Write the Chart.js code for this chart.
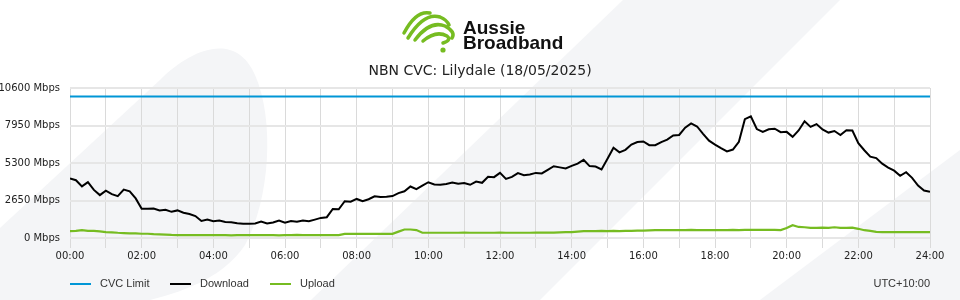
<!DOCTYPE html>
<html>
<head>
<meta charset="utf-8">
<title>NBN CVC: Lilydale</title>
<script src="https://cdn.jsdelivr.net/npm/chart.js@4"></script>
<style>
  html, body { margin: 0; padding: 0; background: #fff; }
  #cvc { display: block; }
</style>
</head>
<body>
<canvas id="cvc" width="960" height="300"></canvas>
<script>
// the data, one reading every 10 minutes from 00:00 to 24:00
const stepMinutes = 10;
const hourLabels = ["00:00","02:00","04:00","06:00","08:00","10:00","12:00","14:00","16:00","18:00","20:00","22:00","24:00"];
const cvcLimit = 10000;

const download = [
  4200, 4080, 3650, 3950, 3400, 3030,
  3350, 3100, 2960, 3420, 3300, 2800,
  2070, 2060, 2080, 1950, 2000, 1850,
  1950, 1790, 1700, 1550, 1200, 1300,
  1190, 1240, 1130, 1120, 1050, 1010,
  1000, 1030, 1160, 1030, 1100, 1240,
  1080, 1200, 1150, 1240, 1190, 1300,
  1420, 1470, 2050, 2030, 2600, 2560,
  2760, 2600, 2740, 2950, 2890, 2910,
  2960, 3170, 3300, 3640, 3450, 3700,
  3940, 3780, 3760, 3820, 3920, 3830,
  3890, 3760, 3990, 3900, 4320, 4300,
  4600, 4180, 4320, 4590, 4440, 4490,
  4600, 4560, 4820, 5070, 4990, 4910,
  5100, 5260, 5520, 5080, 5050, 4850,
  5600, 6380, 6050, 6230, 6600, 6780,
  6820, 6560, 6560, 6780, 6950, 7250,
  7280, 7800, 8100, 7880, 7360, 6880,
  6600, 6350, 6120, 6250, 6800, 8400,
  8600, 7700, 7500, 7680, 7720, 7480,
  7500, 7150, 7600, 8250, 7850, 8050,
  7670, 7450, 7560, 7280, 7620, 7600,
  6700, 6200, 5750, 5650, 5250, 4980,
  4760, 4400, 4650, 4250, 3700, 3350,
  3260
];

const upload = [
  480, 500, 550, 500, 500, 470,
  420, 400, 370, 350, 330, 320,
  300, 300, 270, 260, 240, 220,
  210, 210, 200, 200, 200, 200,
  200, 210, 200, 190, 200, 200,
  200, 200, 200, 200, 200, 190,
  200, 200, 220, 200, 200, 200,
  200, 200, 200, 210, 290, 290,
  290, 290, 290, 290, 300, 290,
  290, 450, 600, 600, 560, 370,
  370, 370, 370, 370, 370, 370,
  380, 370, 370, 370, 370, 370,
  380, 370, 370, 370, 370, 370,
  380, 380, 380, 380, 400, 410,
  410, 450, 480, 480, 490, 500,
  490, 500, 480, 500, 500, 520,
  520, 540, 560, 560, 560, 560,
  560, 560, 570, 560, 560, 560,
  560, 560, 560, 580, 560, 570,
  580, 580, 580, 580, 570, 560,
  700, 900, 780, 760, 720, 720,
  730, 720, 760, 720, 720, 730,
  650, 550, 500, 430, 410, 410,
  410, 410, 410, 410, 410, 410,
  410
];

// turn index into hours for the linear x axis
const toPoints = arr => arr.map((v, i) => ({ x: i * stepMinutes / 60, y: v }));

const green = "#76bc21";
const blue = "#0096d6";

// background swooshes + logo + title, drawn straight onto the canvas
const decor = {
  id: "decor",
  beforeDraw(chart) {
    const c = chart.ctx;
    c.save();
    c.fillStyle = "#fff";
    c.fillRect(0, 0, chart.width, chart.height);
    c.fillStyle = "#f4f5f7";
    // big leaf on the left
    c.beginPath();
    c.moveTo(0, 228);
    c.lineTo(160, 80);
    c.bezierCurveTo(190, 50, 235, 30, 255, 75);
    c.bezierCurveTo(275, 120, 270, 200, 245, 245);
    c.bezierCurveTo(225, 275, 190, 290, 150, 300);
    c.lineTo(0, 300);
    c.closePath();
    c.fill();
    // middle diagonal band
    c.beginPath();
    c.moveTo(311, 300);
    c.lineTo(623, 0);
    c.lineTo(840, 0);
    c.lineTo(540, 300);
    c.closePath();
    c.fill();
    // bottom right corner
    c.beginPath();
    c.moveTo(760, 300);
    c.lineTo(960, 150);
    c.lineTo(960, 300);
    c.closePath();
    c.fill();

    // logo squiggles
    c.strokeStyle = green;
    c.lineWidth = 3.5;
    c.lineCap = "round";
    c.beginPath();
    c.moveTo(404, 33); c.quadraticCurveTo(416, 10, 430, 13);
    c.moveTo(408, 38); c.quadraticCurveTo(424, 12, 440, 17); c.quadraticCurveTo(447, 20, 449, 25);
    c.moveTo(415, 40); c.quadraticCurveTo(430, 20, 445, 26); c.quadraticCurveTo(456, 32, 452, 38);
    c.moveTo(423, 41); c.quadraticCurveTo(436, 30, 447, 36); c.quadraticCurveTo(452, 40, 443, 43);
    c.stroke();
    c.fillStyle = green;
    c.beginPath();
    c.arc(443, 50, 2.6, 0, Math.PI * 2);
    c.fill();

    c.fillStyle = "#111";
    c.font = "bold 19px 'Liberation Sans', Arial, sans-serif";
    c.textAlign = "left";
    c.textBaseline = "alphabetic";
    c.fillText("Aussie", 463, 34);
    c.fillText("Broadband", 463, 49);

    c.fillStyle = "#222";
    c.font = "14px 'DejaVu Sans', sans-serif";
    c.textAlign = "center";
    c.textBaseline = "middle";
    c.fillText("NBN CVC: Lilydale (18/05/2025)", 480, 71);
    c.restore();
  },
  afterDraw(chart) {
    // legend along the bottom, made from the datasets themselves
    const c = chart.ctx;
    const y = 284;
    c.save();
    c.font = "11px 'Liberation Sans', Arial, sans-serif";
    c.textBaseline = "middle";
    c.fillStyle = "#333";
    chart.data.datasets.forEach((ds, i) => {
      const x0 = 70 + i * 100;
      c.strokeStyle = ds.borderColor;
      c.lineWidth = 2;
      c.beginPath();
      c.moveTo(x0, y);
      c.lineTo(x0 + 21, y);
      c.stroke();
      c.textAlign = "left";
      c.fillText(ds.label, x0 + 30, y);
    });
    c.textAlign = "right";
    c.fillText("UTC+10:00", chart.chartArea.right, y);
    c.restore();
  }
};

new Chart("cvc", {
  type: "line",
  data: {
    datasets: [
      { label: "CVC Limit", data: [{ x: 0, y: cvcLimit }, { x: 24, y: cvcLimit }], borderColor: blue, borderWidth: 2 },
      { label: "Download", data: toPoints(download), borderColor: "#000", borderWidth: 2 },
      { label: "Upload", data: toPoints(upload), borderColor: green, borderWidth: 2.2 }
    ]
  },
  options: {
    responsive: false,
    animation: false,
    layout: { padding: { top: 88, right: 30, left: 0, bottom: 0 } },
    elements: { point: { radius: 0 }, line: { tension: 0 } },
    plugins: { legend: { display: false }, tooltip: { enabled: false } },
    scales: {
      x: {
        type: "linear",
        min: 0,
        max: 24,
        border: { display: false },
        grid: { color: "#dadada", lineWidth: 1, tickLength: 10 },
        ticks: {
          stepSize: 1,
          autoSkip: false,
          maxRotation: 0,
          padding: 2,
          color: "#222",
          font: { family: "'DejaVu Sans', sans-serif", size: 10 },
          // only every second hour gets a label, but every hour keeps its line
          callback: v => (v % 2 === 0 ? hourLabels[v / 2] : "")
        },
        afterFit: s => { s.height = 62; }
      },
      y: {
        min: 0,
        max: 10600,
        border: { display: false },
        grid: { color: "#e6e6e6", lineWidth: 2, drawTicks: false },
        ticks: {
          stepSize: 2650,
          padding: 10,
          color: "#222",
          font: { family: "'DejaVu Sans', sans-serif", size: 10 },
          callback: v => v + " Mbps"
        },
        afterFit: s => { s.width = 70; }
      }
    }
  },
  plugins: [decor]
});
</script>
</body>
</html>
